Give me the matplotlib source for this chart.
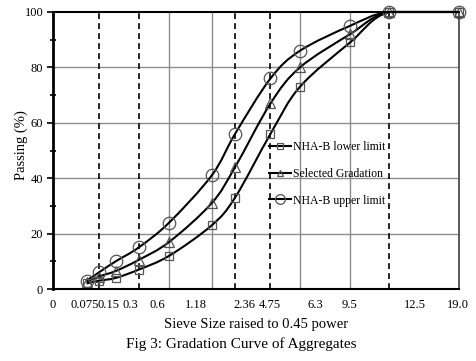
import numpy as np
import matplotlib
matplotlib.use("Agg")
import matplotlib.pyplot as plt
from matplotlib.path import Path
from matplotlib.patches import PathPatch
from matplotlib.lines import Line2D
from matplotlib.ticker import MultipleLocator

plt.rcParams['font.family'] = ['Liberation Serif', 'DejaVu Serif']

# ---- data ----
sieve = [0.075, 0.15, 0.3, 0.6, 1.18, 2.36, 3.2, 4.75, 6.3, 9.5, 12.5, 19.0]
lower = [2, 3, 4, 7, 12, 23, 33, 56, 73, 89, 100, 100]
selected = [2.5, 4.5, 6.5, 10.5, 17, 31, 44, 67, 80, 92, 100, 100]
upper = [3, 6, 10, 15, 24, 41, 56, 76, 86, 95, 100, 100]
series_names = ["NHA-B lower limit", "Selected Gradation", "NHA-B upper limit"]

dashed_sieves = [0.15, 0.6, 3.2, 4.75, 12.5]
solid_sieves = [1.18, 2.36, 6.3, 9.5]

xtick_labels = ["0", "0.075", "0.15", "0.3", "0.6", "1.18", "2.36", "4.75", "6.3", "9.5", "12.5", "19.0"]
xtick_pos = [0, 0.296, 0.519, 0.722, 0.972, 1.324, 1.778, 2.009, 2.435, 2.750, 3.352, 3.755]

POW = 0.45

fig = plt.figure(figsize=(4.77, 3.61), dpi=100)
ax = fig.add_axes([0.111, 0.1994, 0.851, 0.7674])

xmax = 19.0 ** POW
ax.set_xlim(0, xmax)
ax.set_ylim(0, 100)

# grid lines
for v in [20, 40, 60, 80]:
    ax.axhline(v, color='#8c8c8c', lw=1.0, zorder=1)
for s in solid_sieves:
    ax.axvline(s ** POW, color='#8c8c8c', lw=1.0, zorder=1)
for s in dashed_sieves:
    ax.axvline(s ** POW, color='black', lw=1.2, ls=(0, (3.5, 2.5)), zorder=2)


def excel_smooth(xs, ys):
    pts = np.column_stack([xs, ys]).astype(float)
    n = len(pts)
    verts = [pts[0]]
    codes = [Path.MOVETO]
    for i in range(n - 1):
        p0 = pts[i - 1] if i > 0 else pts[i]
        p1 = pts[i]
        p2 = pts[i + 1]
        p3 = pts[i + 2] if i + 2 < n else pts[i + 1]
        c1 = p1 + (p2 - p0) / 6.0
        c2 = p2 - (p3 - p1) / 6.0
        lo, hi = min(p1[1], p2[1]), max(p1[1], p2[1])
        c1[1] = min(max(c1[1], lo), hi)
        c2[1] = min(max(c2[1], lo), hi)
        verts += [c1, c2, p2]
        codes += [Path.CURVE4] * 3
    return Path(verts, codes)


xs = [s ** POW for s in sieve]
markers = ['s', '^', 'o']
msizes = [6, 7, 9]
handles = []
for ys, mk, ms, name in zip([lower, selected, upper], markers, msizes, series_names):
    ax.add_patch(PathPatch(excel_smooth(xs, ys), fc='none', ec='black', lw=1.5, zorder=4, clip_on=False))
    ax.plot(xs, ys, ls='none', marker=mk, ms=ms, mfc='none', mec='#555555', mew=0.9, zorder=5, clip_on=False)
    handles.append(Line2D([], [], color='black', lw=1.5, marker=mk, ms=ms - 2, mfc='none', mec='#555555', mew=0.9, label=name))

leg = ax.legend(handles=handles, loc='upper left', bbox_to_anchor=(0.532, 0.534), frameon=False,
                fontsize=8.5, handlelength=1.9, handletextpad=0.15, labelspacing=1.25,
                borderaxespad=0, borderpad=0)
leg.set_zorder(7)

# spines
ax.spines['left'].set_linewidth(2.0)
ax.spines['left'].set_color('black')
ax.spines['bottom'].set_linewidth(1.5)
ax.spines['bottom'].set_color('black')
ax.spines['top'].set_linewidth(1.5)
ax.spines['top'].set_color('black')
ax.spines['right'].set_linewidth(1.2)
ax.spines['right'].set_color('#404040')
for sp in ax.spines.values():
    sp.set_zorder(6)

ax.yaxis.set_major_locator(MultipleLocator(20))
ax.yaxis.set_minor_locator(MultipleLocator(10))
ax.tick_params(axis='y', which='major', direction='out', length=4, width=1.2, labelsize=9, pad=3)
ax.tick_params(axis='y', which='minor', direction='inout', length=5, width=1.2)

ax.set_xticks(xtick_pos)
ax.set_xticklabels(xtick_labels)
ax.tick_params(axis='x', which='major', length=0, labelsize=9, pad=7)

ax.set_xlabel("Sieve Size raised to 0.45 power", fontsize=10.5, labelpad=5)
ax.set_ylabel("Passing (%)", fontsize=10.5, va='center')
ax.yaxis.set_label_coords(-0.077, 0.52)

fig.text(0.505, 0.048, "Fig 3: Gradation Curve of Aggregates", ha='center', va='center', fontsize=11)

fig.savefig("out.png", dpi=100)
